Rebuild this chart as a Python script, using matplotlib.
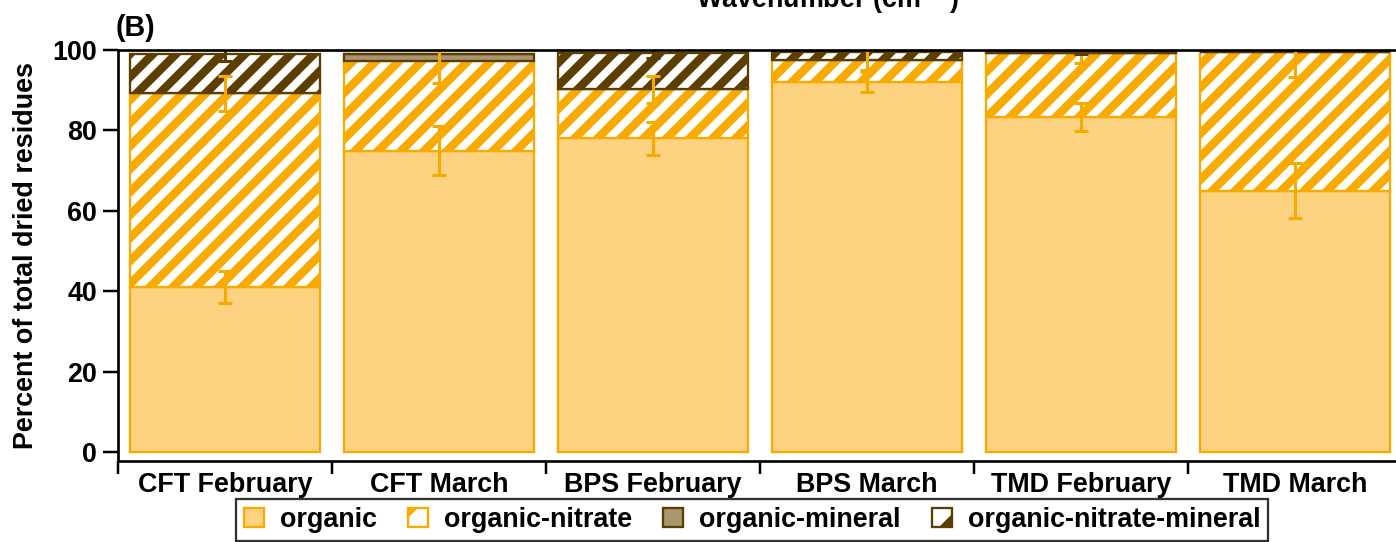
import matplotlib
matplotlib.use("Agg")
import matplotlib.pyplot as plt
import numpy as np
from matplotlib.patches import Patch

plt.rcParams["font.family"] = ["Liberation Sans", "DejaVu Sans"]
plt.rcParams["font.weight"] = "bold"

# Composition of dried residues per site and month (percent)
categories = ["CFT February", "CFT March", "BPS February",
              "BPS March", "TMD February", "TMD March"]
organic = [41.1, 75.0, 78.0, 92.1, 83.4, 65.0]
organic_nitrate = [48.1, 22.3, 12.2, 5.4, 15.8, 34.6]
organic_mineral = [0.0, 1.8, 0.0, 0.0, 0.0, 0.0]
organic_nitrate_mineral = [9.9, 0.0, 9.1, 2.0, 0.6, 0.0]

organic_err = [4.0, 6.2, 4.1, 2.5, 3.5, 6.8]
organic_nitrate_err = [4.4, 5.6, 3.3, 2.5, 2.5, 6.2]
organic_mineral_err = [0.0, 0.0, 0.0, 0.0, 0.0, 0.0]
organic_nitrate_mineral_err = [1.8, 0.0, 1.2, 0.0, 0.8, 0.0]

legend_labels = ["organic", "organic-nitrate", "organic-mineral",
                 "organic-nitrate-mineral"]

ORANGE = "#F8AA00"
LIGHT = "#FDD381"
TAN = "#A8966E"
BROWN = "#5C3F00"
FS = 14

plt.rcParams["hatch.linewidth"] = 4.4

W, H, DPI = 1396, 542, 138
fig = plt.figure(figsize=(W / DPI, H / DPI), dpi=DPI)
ax = fig.add_axes([118 / W, 1 - 461 / H, 1284 / W, 411 / H])

x = np.arange(len(categories)) + 0.5
width = 0.888

layers = [
    (organic, organic_err, dict(facecolor=LIGHT, edgecolor=ORANGE, hatch=None), ORANGE),
    (organic_nitrate, organic_nitrate_err, dict(facecolor="white", edgecolor=ORANGE, hatch="//"), ORANGE),
    (organic_mineral, organic_mineral_err, dict(facecolor=TAN, edgecolor=BROWN, hatch=None), BROWN),
    (organic_nitrate_mineral, organic_nitrate_mineral_err, dict(facecolor="white", edgecolor=BROWN, hatch="//"), BROWN),
]

bottom = np.zeros(len(categories))
tops = []
for vals, errs, style, ecol in layers:
    vals = np.array(vals, dtype=float)
    ax.bar(x, vals, width=width, bottom=bottom, linewidth=1.2, zorder=2, **style)
    top = bottom + vals
    tops.append((top, np.array(errs, dtype=float), ecol, vals))
    bottom = top

for top, errs, ecol, vals in tops:
    mask = (errs > 0) & (vals > 0)
    if mask.any():
        ax.errorbar(x[mask], top[mask], yerr=errs[mask], fmt="none",
                    ecolor=ecol, elinewidth=1.6, capsize=3.8, capthick=1.6,
                    zorder=4)

ax.set_xlim(0, len(categories))
ax.set_ylim(-2.2, 100)
ax.set_yticks([0, 20, 40, 60, 80, 100])
ax.set_xticks(np.arange(len(categories) + 1))
ax.set_xticklabels([])
ax.set_xticks(x, minor=True)
ax.set_xticklabels(categories, minor=True, fontsize=FS, fontweight="bold")
ax.tick_params(axis="x", which="minor", length=0, pad=6)
ax.tick_params(axis="x", which="major", length=7, width=1.3, direction="out")
ax.tick_params(axis="y", length=8, width=1.3, direction="out", labelsize=FS, pad=3)
for lab in ax.get_yticklabels():
    lab.set_fontweight("bold")

for side in ["left", "top", "bottom", "right"]:
    ax.spines[side].set_linewidth(1.4)
    ax.spines[side].set_zorder(5)

ax.set_ylabel("Percent of total dried residues", fontsize=FS,
              fontweight="bold", labelpad=7)

handles = [
    Patch(facecolor=LIGHT, edgecolor=ORANGE, linewidth=1.2),
    Patch(facecolor="white", edgecolor=ORANGE, hatch="/", linewidth=1.2),
    Patch(facecolor=TAN, edgecolor=BROWN, linewidth=1.2),
    Patch(facecolor="white", edgecolor=BROWN, hatch="/", linewidth=1.2),
]
leg = fig.legend(handles, legend_labels, loc="center", ncol=4,
                 bbox_to_anchor=(752 / W, 1 - 520 / H),
                 prop=dict(size=FS, weight="bold"),
                 frameon=True, fancybox=False, edgecolor="black",
                 handlelength=0.75, handleheight=0.75, handletextpad=0.6,
                 columnspacing=1.15, borderpad=0.3)
leg.get_frame().set_linewidth(1.2)

fig.text(116 / W, 1 - 36 / H, "(B)", fontsize=15, fontweight="bold",
         ha="left", va="baseline")
fig.text(828 / W, 1 - 8 / H, "Wavenumber (cm$^{-1}$)", fontsize=FS,
         fontweight="bold", ha="center", va="baseline")

fig.savefig("out.png", dpi=DPI)
